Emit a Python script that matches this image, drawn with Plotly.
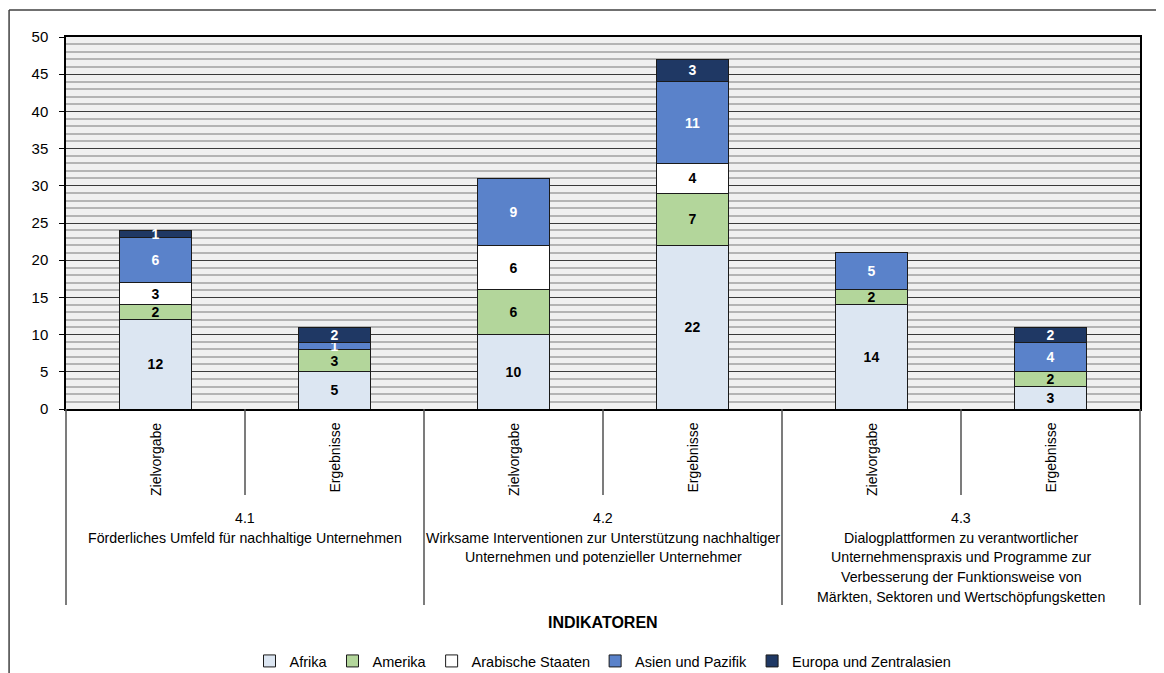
import plotly.graph_objects as go

FONT = "Liberation Sans, Arial, sans-serif"

# category levels
bar_labels = ["Zielvorgabe", "Ergebnisse", "Zielvorgabe", "Ergebnisse", "Zielvorgabe", "Ergebnisse"]
group_labels = [
    ["4.1", "Förderliches Umfeld für nachhaltige Unternehmen"],
    ["4.2", "Wirksame Interventionen zur Unterstützung nachhaltiger",
     "Unternehmen und potenzieller Unternehmer"],
    ["4.3", "Dialogplattformen zu verantwortlicher", "Unternehmenspraxis und Programme zur",
     "Verbesserung der Funktionsweise von", "Märkten, Sektoren und Wertschöpfungsketten"],
]

# series values (None = no segment)
afrika = [12, 5, 10, 22, 14, 3]
amerika = [2, 3, 6, 7, 2, 2]
arabische_staaten = [3, None, 6, 4, None, None]
asien_pazifik = [6, 1, 9, 11, 5, 4]
europa_zentralasien = [1, 2, None, 3, None, 2]

series = [
    ("Afrika", afrika, "#dce6f2", "black"),
    ("Amerika", amerika, "#b3d69b", "black"),
    ("Arabische Staaten", arabische_staaten, "#ffffff", "black"),
    ("Asien und Pazifik", asien_pazifik, "#5a82ca", "white"),
    ("Europa und Zentralasien", europa_zentralasien, "#1f3864", "white"),
]

x = list(range(len(bar_labels)))

fig = go.Figure()
for name, values, color, text_color in series:
    fig.add_bar(
        x=x,
        y=values,
        name=name,
        width=0.4,
        marker=dict(color=color, line=dict(color="#1a1a1a", width=1)),
        text=[str(v) if v else "" for v in values],
        textposition="inside",
        insidetextanchor="middle",
        textangle=0,
        constraintext="none",
        textfont=dict(family=FONT, size=14, color=text_color, weight="bold"),
        hoverinfo="skip",
    )

n = len(bar_labels)
unit = 1 / n
FIG_H = 665


def py(pixel):
    # paper y for a screen row (plot area spans rows 37..409)
    return (409 - pixel) / 372


shapes = []
# dividers under the axis
for k in range(n + 1):
    bottom = py(605) if k % 2 == 0 else py(495)
    shapes.append(dict(type="line", xref="paper", yref="paper", x0=k * unit, x1=k * unit,
                       y0=0, y1=bottom, line=dict(color="#505050", width=1.5)))
# outer chart frame (left and top edges)
shapes.append(dict(type="line", xref="paper", yref="paper", x0=-0.053, x1=-0.053,
                   y0=py(10), y1=py(700), line=dict(color="#404040", width=1.5)))
shapes.append(dict(type="line", xref="paper", yref="paper", x0=-0.053, x1=1.05,
                   y0=py(10), y1=py(10), line=dict(color="#404040", width=1.5)))

annotations = []
for i, label in enumerate(bar_labels):
    annotations.append(dict(x=i, y=py(421), xref="x", yref="paper", text=label, textangle=-90,
                            showarrow=False, xanchor="center", yanchor="top",
                            font=dict(family=FONT, size=14, color="black")))
for g, lines in enumerate(group_labels):
    for j, line in enumerate(lines):
        annotations.append(dict(x=2 * g + 0.5, y=py(518 + 19.7 * j), xref="x", yref="paper",
                                text=line, showarrow=False, xanchor="center", yanchor="middle",
                                font=dict(family=FONT, size=14.2, color="black")))
annotations.append(dict(x=0.5, y=py(622), xref="paper", yref="paper", text="INDIKATOREN",
                        showarrow=False, xanchor="center", yanchor="middle",
                        font=dict(family=FONT, size=16, color="black", weight="bold")))

fig.update_layout(
    barmode="stack",
    width=1156,
    height=FIG_H,
    margin=dict(l=58, r=24, t=29, b=264),
    paper_bgcolor="white",
    plot_bgcolor="#f0f0f0",
    font=dict(family=FONT, size=14, color="black"),
    shapes=shapes,
    annotations=annotations,
    legend=dict(orientation="h", x=0.5, xanchor="center", yref="container",
                y=(FIG_H - (661 - 8)) / FIG_H, yanchor="middle",
                font=dict(family=FONT, size=14.5, color="black"), traceorder="normal"),
    xaxis=dict(range=[-0.5, n - 0.5], showticklabels=False, showgrid=False, zeroline=False,
               showline=True, linecolor="black", linewidth=1.5, mirror=True, ticks=""),
    yaxis=dict(range=[0, 50], dtick=5, showgrid=True, gridcolor="#3a3a3a", gridwidth=1,
               zeroline=False, showline=True, linecolor="black", linewidth=1.5, mirror=True,
               ticks="outside", ticklen=5, tickcolor="black", ticklabelstandoff=8,
               tickfont=dict(family=FONT, size=15, color="black"),
               minor=dict(dtick=1, showgrid=True, gridcolor="#b4b4b4", gridwidth=1.5)),
)

fig.write_html("out.html")
